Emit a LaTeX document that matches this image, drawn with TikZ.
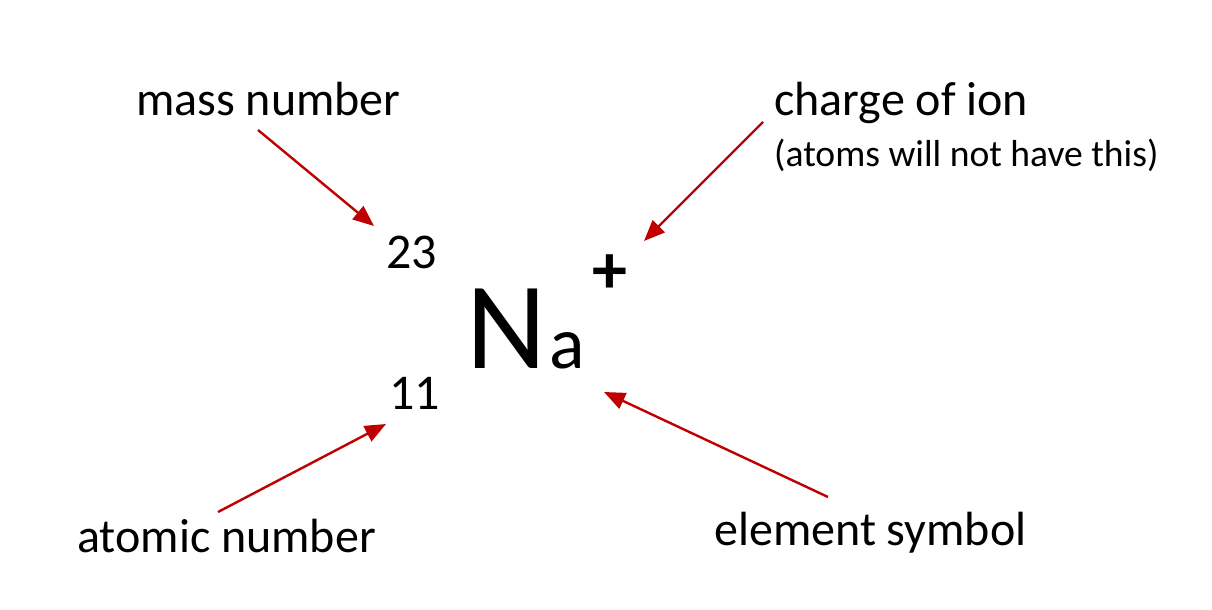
\documentclass[tikz,border=0pt]{standalone}
\usepackage{fontspec}
\setmainfont{Carlito}
\usetikzlibrary{arrows.meta}
\definecolor{arrowred}{HTML}{C00000}
\begin{document}
\begin{tikzpicture}[x=1pt,y=-1pt,
  lbl/.style={inner sep=0pt,anchor=base west,font=\fontsize{48}{50}\selectfont},
  sublbl/.style={inner sep=0pt,anchor=base west,font=\fontsize{37.6}{40}\selectfont},
  num/.style={inner sep=0pt,anchor=base west,font=\fontsize{50}{50}\selectfont},
  pointer/.style={draw=arrowred,line width=2.4pt,-{Triangle[length=21pt,width=17pt]}}]
\useasboundingbox (0,0) rectangle (1212,610);
% labels
\node[lbl] (mass) at (136,115) {mass number};
\node[lbl] (charge) at (774,115) {charge of ion};
\node[sublbl] (note) at (774,166) {(atoms will not have this)};
\node[lbl] (atomic) at (77,552) {atomic number};
\node[lbl] (element) at (714,545) {element symbol};
% symbol
\node[num] (mnum) at (386,268) {23};
\node[num] (anum) at (389,409) {11};
\node[inner sep=0pt,anchor=base west,font=\fontsize{124}{124}\selectfont] (sym) at (466,368) {N};
\node[inner sep=0pt,anchor=base west,font=\fontsize{74}{74}\selectfont] (sym2) at (549,368) {a};
\node[inner sep=0pt,anchor=center,font=\bfseries\fontsize{70}{70}\selectfont] (chg) at (610,274) {+};
% arrow ends
\coordinate (m0) at (258,130); \coordinate (m1) at (374,226);
\coordinate (c0) at (763,122); \coordinate (c1) at (644,241);
\coordinate (a0) at (218,512); \coordinate (a1) at (386,424);
\coordinate (e0) at (828,497); \coordinate (e1) at (604,392);
\draw[pointer] (m0) -- (m1);
\draw[pointer] (c0) -- (c1);
\draw[pointer] (a0) -- (a1);
\draw[pointer] (e0) -- (e1);
\end{tikzpicture}
\end{document}
